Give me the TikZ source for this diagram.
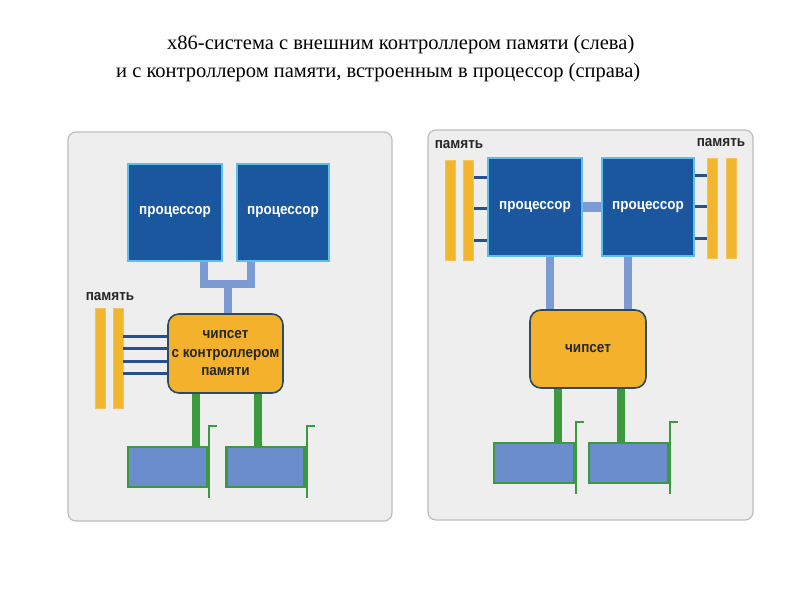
\documentclass[tikz,border=0pt]{standalone}
\usepackage{fontspec}
\setmainfont{Liberation Serif}
\newfontfamily\labfont[FakeStretch=0.9]{Liberation Sans}
\definecolor{panelfill}{HTML}{EEEEEE}
\definecolor{panelline}{HTML}{BDBDBD}
\definecolor{procfill}{HTML}{1B579E}
\definecolor{procline}{HTML}{5DBDEB}
\definecolor{linkblue}{HTML}{7C9AD4}
\definecolor{memyellow}{HTML}{F2B52E}
\definecolor{chipfill}{HTML}{F4B22C}
\definecolor{chipline}{HTML}{2E4A5E}
\definecolor{busgreen}{HTML}{3C9A3E}
\definecolor{cardfill}{HTML}{6C8DCB}
\definecolor{memline}{HTML}{27508E}
\tikzset{
  panel/.style={draw=panelline, fill=panelfill, line width=1.2pt, rounded corners=8pt},
  proc/.style={draw=procline, fill=procfill, line width=1.5pt, minimum height=97pt,
    inner sep=0pt, text=white, font=\labfont\bfseries\fontsize{15}{18}\selectfont},
  link/.style={draw=linkblue, line width=8pt},
  stick/.style={draw=memyellow!80!white, fill=memyellow, line width=0.6pt, minimum width=10pt,
    minimum height=100pt, inner sep=0pt},
  memlink/.style={draw=memline, line width=3pt},
  chip/.style={draw=chipline, fill=chipfill, line width=1.6pt, rounded corners=11pt,
    inner sep=0pt, align=center, font=\labfont\bfseries\fontsize{15}{18.5}\selectfont, text=black!85},
  gbus/.style={draw=busgreen, line width=8pt},
  card/.style={draw=busgreen, fill=cardfill, line width=2.5pt, minimum height=40pt, inner sep=0pt},
  bracket/.style={draw=busgreen, line width=2.2pt},
  memlabel/.style={font=\labfont\bfseries\fontsize{15}{18}\selectfont, text=black!85, inner sep=0pt},
  title/.style={font=\fontsize{20.5}{24}\selectfont, anchor=west, inner sep=0pt}
}
\begin{document}
\begin{tikzpicture}[x=1pt,y=-1pt]
\useasboundingbox (0,0) rectangle (800,600);
\fill[white] (0,0) rectangle (800,600);
% title
\node[title] (t1) at (167,45) {x86-система с внешним контроллером памяти (слева)};
\node[title] (t2) at (116,73) {и с контроллером памяти, встроенным в процессор (справа)};
% panels
\draw[panel] (68,132) rectangle (392,521);
\draw[panel] (428,130) rectangle (753,520);

% ===== left panel =====
\node[proc, minimum width=94pt] (lp1) at (175,212.5) {процессор};
\node[proc, minimum width=92pt] (lp2) at (283,212.5) {процессор};
\node[chip, minimum width=115pt, minimum height=79pt] (lc) at (225.5,353.5)
  {чипсет\\с контроллером\\памяти};
\coordinate (lj) at (228,284);
\draw[link] ([xshift=29pt]lp1.south) |- (lj) -| ([xshift=-32pt]lp2.south);
\draw[link] (lj) -- (lj |- lc.north);
\node[memlabel] (lml) at (110,297) {память};
\node[stick] (lm1) at (100,358) {};
\node[stick] (lm2) at (118,358) {};
\foreach \i/\y in {1/336,2/348.5,3/361,4/373.5}{
  \coordinate (lmc\i) at (lm2.east |- 0,\y);
  \draw[memlink] (lmc\i) -- (lmc\i -| lc.west);
}
\node[card, minimum width=79pt] (lk1) at (167.5,467) {};
\node[card, minimum width=78pt] (lk2) at (265.5,467) {};
\coordinate (lg1) at (196,0);
\coordinate (lg2) at (257.5,0);
\draw[gbus] (lc.south -| lg1) -- (lk1.north -| lg1);
\draw[gbus] (lc.south -| lg2) -- (lk2.north -| lg2);
\foreach \k in {lk1,lk2}{
  \draw[bracket] ([xshift=9pt,yshift=20pt]\k.north east) -- ([xshift=1pt,yshift=20pt]\k.north east)
     -- ([xshift=1pt,yshift=-10pt]\k.south east);
}

% ===== right panel =====
\node[proc, minimum width=94pt, minimum height=98pt] (rp1) at (535,207) {процессор};
\node[proc, minimum width=92pt, minimum height=98pt] (rp2) at (648,207) {процессор};
\draw[link, line width=10pt] (rp1.east) -- (rp2.west);
\node[chip, minimum width=116pt, minimum height=78pt] (rc) at (588,349) {чипсет};
\draw[link] ([xshift=15pt]rp1.south) -- ([xshift=15pt]rp1.south |- rc.north);
\draw[link] ([xshift=-20pt]rp2.south) -- ([xshift=-20pt]rp2.south |- rc.north);
\node[memlabel] (rml1) at (459,145) {память};
\node[memlabel] (rml2) at (721,143) {память};
\node[stick] (rm1) at (450.5,210) {};
\node[stick] (rm2) at (468.5,210) {};
\node[stick] (rm3) at (712.5,208) {};
\node[stick] (rm4) at (731.5,208) {};
\foreach \i/\y in {1/177,2/208.5,3/240}{
  \coordinate (rmc\i) at (rm2.east |- 0,\y);
  \draw[memlink] (rmc\i) -- (rmc\i -| rp1.west);
}
\foreach \i/\y in {1/175,2/206.5,3/238}{
  \coordinate (rmd\i) at (rm3.west |- 0,\y);
  \draw[memlink] (rmd\i) -- (rmd\i -| rp2.east);
}
\node[card, minimum width=80pt] (rk1) at (534,463) {};
\node[card, minimum width=79pt] (rk2) at (628.5,463) {};
\coordinate (rg1) at (557.5,0);
\coordinate (rg2) at (620.5,0);
\draw[gbus] (rc.south -| rg1) -- (rk1.north -| rg1);
\draw[gbus] (rc.south -| rg2) -- (rk2.north -| rg2);
\foreach \k in {rk1,rk2}{
  \draw[bracket] ([xshift=9pt,yshift=20pt]\k.north east) -- ([xshift=1pt,yshift=20pt]\k.north east)
     -- ([xshift=1pt,yshift=-10pt]\k.south east);
}
\end{tikzpicture}
\end{document}
